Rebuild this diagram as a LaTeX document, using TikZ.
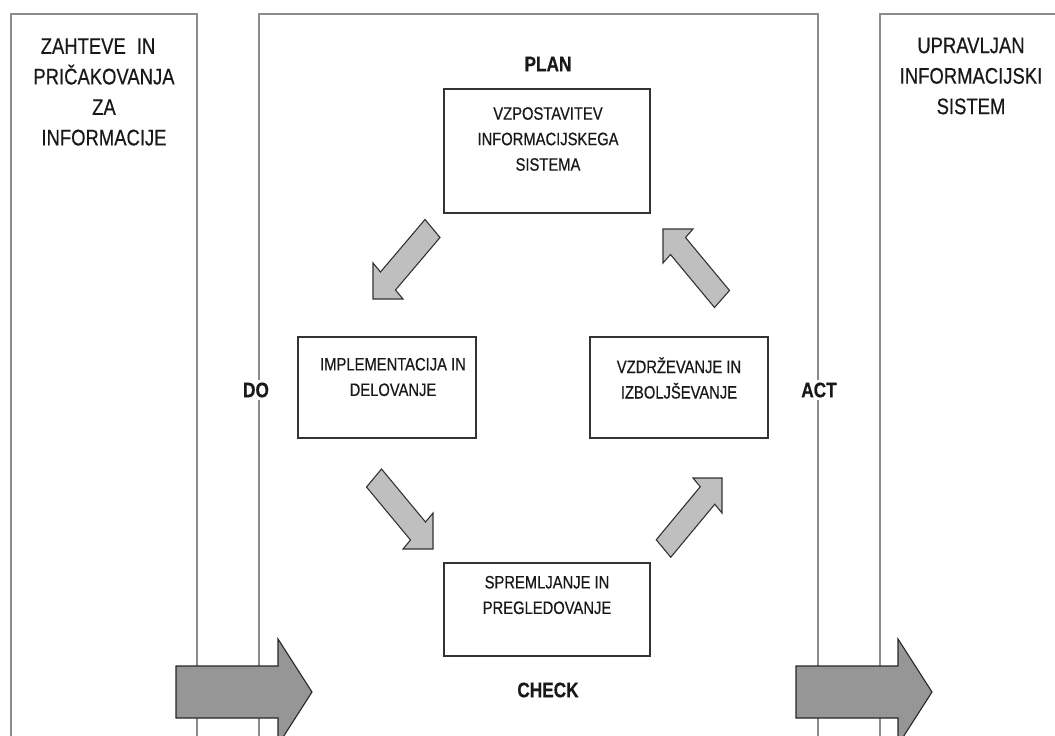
\documentclass[tikz,border=0pt]{standalone}
\usepackage{fontspec}
\setmainfont{Liberation Sans}[FakeStretch=0.82, FakeBold=0.5]
\usetikzlibrary{calc}

% Grey block arrow: tip #1, head corners #2 and #3, shaft offset #4
\newcommand\flowarrow[4]{%
  \draw[flow] (#2) -- ($(#2)!0.25!(#3)$) -- ++(#4)
    -- ($($(#2)!0.75!(#3)$)+(#4)$) -- ($(#2)!0.75!(#3)$)
    -- (#3) -- (#1) -- cycle;}

\begin{document}
\begin{tikzpicture}[x=1pt,y=-1pt,
  panel/.style={draw=black!45, line width=1.5pt, inner sep=0pt},
  stepbox/.style={draw=black!80, line width=1.3pt, fill=white, inner sep=0pt},
  boxtext/.style={align=center, text=black!90, font=\fontsize{18}{25.5}\selectfont, inner sep=0pt},
  sidetext/.style={align=center, text=black!90, font=\fontsize{22.5}{30.5}\selectfont, inner sep=0pt},
  phase/.style={text=black!90, font=\bfseries\fontsize{21}{25}\selectfont, fill=white, inner sep=3pt},
  flow/.style={draw=black!80, line width=1.1pt, fill=black!25},
  bigflow/.style={draw=black!85, line width=1.1pt, fill=black!41}
]
\useasboundingbox (0,0) rectangle (1055,736);
\clip (0,0) rectangle (1055,736);

% three vertical panels
\node[panel, anchor=north west, minimum width=186, minimum height=760] (inpanel) at (10,13) {};
\node[panel, anchor=north west, minimum width=559, minimum height=760] (cycle) at (258,13) {};
\node[panel, anchor=north west, minimum width=200, minimum height=760] (outpanel) at (879,13) {};

\node[sidetext] (intext) at (104,92) {ZAHTEVE\hspace{11pt}IN\hspace*{12pt}\\PRIČAKOVANJA\\ZA\\INFORMACIJE};
\node[sidetext] (outtext) at (971,76) {UPRAVLJAN\\INFORMACIJSKI\\SISTEM};

% PDCA step boxes
\node[stepbox, minimum width=206, minimum height=124] (plan) at (547,151) {};
\node[boxtext] (plantext) at (548,139) {VZPOSTAVITEV\\INFORMACIJSKEGA\\SISTEMA};

\node[stepbox, minimum width=178, minimum height=101] (do) at (387,387.5) {};
\node[boxtext] (dotext) at (393,377) {IMPLEMENTACIJA IN\\DELOVANJE};

\node[stepbox, minimum width=178, minimum height=101] (act) at (679,387.5) {};
\node[boxtext] (acttext) at (679,378) {VZDRŽEVANJE IN\\IZBOLJŠEVANJE};

\node[stepbox, minimum width=206, minimum height=93] (check) at (547,609.5) {};
\node[boxtext] (checktext) at (547,595) {SPREMLJANJE IN\\PREGLEDOVANJE};

% phase labels
\node[phase] (planlbl) at (548,64) {PLAN};
\node[phase] (checklbl) at (548,690) {CHECK};
\node[phase] (dolbl) at (256,390) {DO};
\node[phase] (actlbl) at (819,390) {ACT};

% cycle arrows
\flowarrow{373,299}{373,263}{403,299}{44.5,-52.5}
\flowarrow{433,549}{433,513}{403,549}{-44,-53}
\flowarrow{722,478}{693,478}{722,513}{-44,53}
\flowarrow{663,229}{693,229}{663,263}{44,53}

% input and output arrows
\draw[bigflow] (176,666) -- (278,666) -- (278,639) -- (312,692)
  -- (278,745) -- (278,718) -- (176,718) -- cycle;
\draw[bigflow] (796,666) -- (898,666) -- (898,639) -- (932,692)
  -- (898,745) -- (898,718) -- (796,718) -- cycle;
\end{tikzpicture}
\end{document}
